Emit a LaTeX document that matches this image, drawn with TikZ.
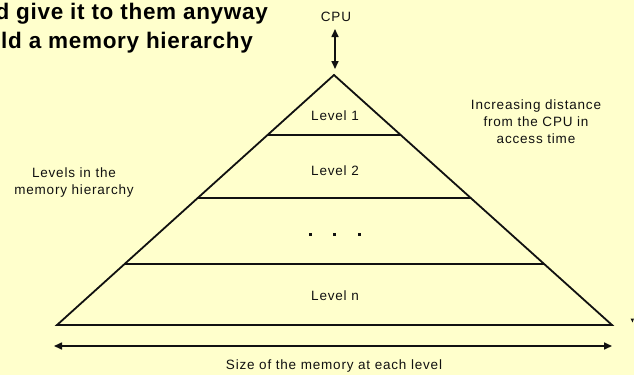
\documentclass[tikz,border=0pt]{standalone}
\usepackage{fontspec}
\setmainfont{Liberation Sans}
\newfontfamily\lblfont[LetterSpace=6]{Liberation Sans}
\newfontfamily\headfont[LetterSpace=3]{Liberation Sans}
\usetikzlibrary{arrows.meta,calc}
\definecolor{paper}{HTML}{FFFFCC}
\definecolor{ink}{HTML}{111111}
\tikzset{
  x=1pt, y=-1pt,
  edge/.style={draw=ink, line width=1.8pt, line join=miter},
  level/.style={draw=ink, line width=2pt},
  lbl/.style={font=\lblfont\fontsize{13.5}{17}\selectfont, text=ink, align=center, inner sep=0pt},
  title/.style={font=\headfont\bfseries\fontsize{22.5}{29}\selectfont, text=black, inner sep=0pt, anchor=base east},
  dblarrow/.style={draw=ink, line width=1.6pt, {Triangle[length=8pt,width=7pt]}-{Triangle[length=8pt,width=7pt]}},
  dot/.style={fill=ink, minimum size=3pt, inner sep=0pt}
}
\begin{document}
\begin{tikzpicture}
  \fill[paper] (0,0) rectangle (634,375);
  \useasboundingbox (0,0) rectangle (634,375);
  \clip (0,0) rectangle (634,375);

  % heading lines, cut at the left edge
  \node[title] (t1) at (268,19) {d give it to them anyway};
  \node[title] (t2) at (253,48) {ld a memory hierarchy};

  % pyramid corners
  \coordinate (apex) at (334,75);
  \coordinate (bl) at (57,325);
  \coordinate (br) at (612,325);
  \draw[edge] (bl) -- (apex) -- (br) -- cycle;

  % level boundaries, each ending on the sides
  \foreach \yy/\nm in {135/a, 198/b, 264/c}{
    \coordinate (\nm L) at ($(apex)!{(\yy-75)/250}!(bl)$);
    \coordinate (\nm R) at ($(apex)!{(\yy-75)/250}!(br)$);
    \draw[level] (\nm L) -- (\nm R);
  }

  % CPU and its link to the top level
  \node[lbl] (cpu) at (336,17) {CPU};
  \coordinate (cpuTop) at (335,29);
  \coordinate (cpuBot) at (335,69);
  \draw[dblarrow] (cpuTop) -- (cpuBot);

  % level labels
  \node[lbl] (l1) at (335,116) {Level 1};
  \node[lbl] (l2) at (335,171) {Level 2};
  \node[dot] (d1) at (310,234) {};
  \node[dot] (d2) at (334,234) {};
  \node[dot] (d3) at (359,234) {};
  \node[lbl] (ln) at (335,296) {Level n};

  % side notes
  \node[lbl] (lev) at (74,183) {Levels in the\\memory hierarchy};
  \node[lbl] (dist) at (536,122) {Increasing distance\\from the CPU in\\access time};

  % size axis
  \coordinate (sL) at (54,346);
  \coordinate (sR) at (612,346);
  \draw[dblarrow] (sL) -- (sR);
  \node[lbl] (size) at (334,366) {Size of the memory at each level};

  % fragment at the right edge
  \fill[ink] (630.5,318.5) -- (634,318.5) -- (632.5,322.5) -- cycle;
\end{tikzpicture}
\end{document}
